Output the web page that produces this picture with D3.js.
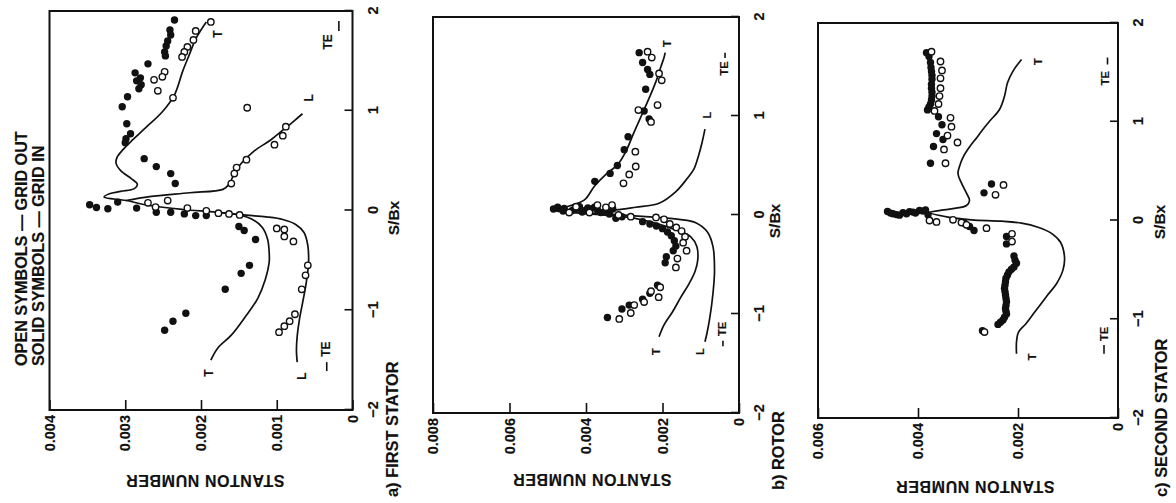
<!DOCTYPE html>
<html>
<head>
<meta charset="utf-8">
<script src="https://cdn.jsdelivr.net/npm/d3@7/dist/d3.min.js"></script>
<style>
  body { margin: 0; background: #fff; }
  text { font-family: "Liberation Sans", Arial, sans-serif; font-weight: bold; fill: #111; stroke: #111; stroke-width: 0.15px; }
</style>
</head>
<body>
<svg id="fig" width="1176" height="503"></svg>
<script>
// Axis ticks and texts
const sbxTicks = [-2, -1, 0, 1, 2];
const stTicksA = [0, 0.001, 0.002, 0.003, 0.004];
const stTicksB = [0, 0.002, 0.004, 0.006, 0.008];
const stTicksC = [0, 0.002, 0.004, 0.006];
const legendLines = ["OPEN SYMBOLS \u2014 GRID OUT", "SOLID SYMBOLS \u2014 GRID IN"];
const captions = ["a) FIRST STATOR", "b) ROTOR", "c) SECOND STATOR"];

// a) first stator: [S/Bx, Stanton]
const aT = [[-1.50,0.00187],[-1.38,0.00178],[-1.25,0.00160],[-1.06,0.00141],[-0.88,0.00125],[-0.69,0.00115],[-0.52,0.00110],[-0.42,0.00110],[-0.29,0.00112],[-0.17,0.00119],[-0.09,0.00132],[-0.044,0.00150],[-0.017,0.00180],[0.01,0.00224],[0.05,0.00268],[0.10,0.00299],[0.135,0.00328],[0.168,0.00321],[0.192,0.00306],[0.219,0.00288],[0.263,0.00284],[0.32,0.00292],[0.40,0.00306],[0.47,0.00312],[0.53,0.00311],[0.61,0.00303],[0.71,0.00290],[0.83,0.00273],[0.99,0.00251],[1.16,0.00235],[1.40,0.00224],[1.57,0.00215],[1.72,0.00207],[1.89,0.00193]];
const aLp = [[-1.52,0.00073],[-1.40,0.00074],[-1.26,0.00073],[-1.09,0.00070],[-0.89,0.00065],[-0.72,0.00061],[-0.52,0.00058],[-0.35,0.00059],[-0.22,0.00064],[-0.14,0.00075],[-0.09,0.00092],[-0.064,0.00114],[-0.044,0.00145],[-0.017,0.00180]];
const aLs = [[0.10,0.00299],[0.14,0.00268],[0.178,0.00215],[0.212,0.00171],[0.263,0.00163],[0.354,0.00157],[0.471,0.00147],[0.596,0.00130],[0.707,0.00108],[0.818,0.00090],[0.899,0.00077],[0.97,0.00066]];
const aOpen = [[1.89,0.00187],[1.80,0.00207],[1.71,0.00210],[1.64,0.00218],[1.59,0.00222],[1.54,0.00225],[1.39,0.00248],[1.34,0.00251],[1.31,0.00262],[1.20,0.00257],[1.13,0.00237],
  [1.03,0.00139],
  [0.84,0.00088],[0.75,0.00092],[0.66,0.00103],[0.51,0.00140],[0.43,0.00153],[0.37,0.00156],[0.27,0.00160],
  [0.077,0.00270],[0.034,0.00260],[0.10,0.00244],[0.024,0.00218],[-0.003,0.00193],[-0.027,0.00177],[-0.034,0.00163],[-0.044,0.00149],
  [-0.18,0.00100],[-0.19,0.00090],[-0.26,0.00090],[-0.31,0.00078],[-0.55,0.00059],[-0.65,0.00062],[-0.79,0.00067],[-1.04,0.00076],[-1.11,0.00083],[-1.16,0.00090],[-1.22,0.00097]];
const aSolid = [[1.91,0.00235],[1.81,0.00241],[1.76,0.00240],[1.70,0.00244],[1.65,0.00246],[1.59,0.00248],[1.55,0.00247],[1.47,0.00270],[1.38,0.00287],[1.33,0.00280],[1.30,0.00285],[1.26,0.00279],[1.22,0.00282],[1.14,0.00297],[1.04,0.00304],[0.87,0.00298],[0.77,0.00293],[0.72,0.00299],[0.68,0.00300],
  [0.52,0.00275],[0.44,0.00259],[0.37,0.00240],[0.27,0.00234],
  [0.057,0.00347],[0.030,0.00338],[0.017,0.00323],[0.084,0.00310],[0.024,0.00285],[-0.017,0.00259],[-0.017,0.00240],[-0.034,0.00222],[-0.051,0.00207],[-0.051,0.00193],
  [-0.16,0.00150],[-0.20,0.00143],[-0.29,0.00128],[-0.55,0.00136],[-0.63,0.00147],[-0.79,0.00168],[-1.03,0.00220],[-1.11,0.00237],[-1.20,0.00248]];
const aLabels = [["T",1.77,0.00178],["L",1.13,0.00057],["T",-1.63,0.00190],["L",-1.66,0.00067],["TE",1.69,0.00032],["TE",-1.39,0.00035]];
const aTE = [[1.80,1.90,0.00018],[-1.61,-1.52,0.00034]];

// b) rotor
const bT = [[-1.23,0.00209],[-1.11,0.00196],[-0.98,0.00174],[-0.83,0.00152],[-0.69,0.00130],[-0.57,0.00115],[-0.46,0.00108],[-0.32,0.00110],[-0.22,0.00126],[-0.15,0.00165],[-0.084,0.00217],[-0.024,0.00287],[0.010,0.00391],[0.051,0.00491],[0.091,0.00444],[0.152,0.00404],[0.29,0.00378],[0.41,0.00348],[0.51,0.00317],[0.64,0.00296],[0.84,0.00274],[1.03,0.00252],[1.18,0.00235],[1.35,0.00217],[1.50,0.00204],[1.59,0.00196],[1.64,0.00193]];
const bLs = [[0.051,0.00491],[0.045,0.00400],[0.051,0.00322],[0.078,0.00270],[0.118,0.00209],[0.236,0.00165],[0.371,0.00135],[0.472,0.00117],[0.597,0.00106],[0.725,0.00097],[0.867,0.00089]];
const bLp = [[-1.28,0.00089],[-1.20,0.00084],[-1.03,0.00076],[-0.79,0.00068],[-0.56,0.00064],[-0.32,0.00068],[-0.17,0.00083],[-0.078,0.00113],[-0.044,0.00157],[-0.017,0.00244],[0.017,0.00374],[0.051,0.00491]];
const bOpen = [[1.65,0.00239],[1.59,0.00228],[1.43,0.00209],[1.36,0.00202],[1.11,0.00213],[1.06,0.00263],[0.94,0.00230],[0.64,0.00271],[0.49,0.00270],[0.41,0.00287],[0.32,0.00302],
  [0.024,0.00444],[0.084,0.00426],[0.024,0.00391],[0.10,0.00370],[0.078,0.00348],[0.10,0.00332],[0.00,0.00315],[-0.017,0.00283],
  [-0.024,0.00217],[-0.044,0.00196],[-0.091,0.00181],[-0.125,0.00164],[-0.162,0.00150],[-0.219,0.00141],[-0.28,0.00146],[-0.36,0.00137],[-0.44,0.00161],[-0.53,0.00165],
  [-0.73,0.00206],[-0.83,0.00210],[-0.77,0.00230],[-0.88,0.00248],[-0.91,0.00274],[-0.99,0.00283],[-1.05,0.00313]];
const bSolid = [[1.64,0.00261],[1.54,0.00252],[1.47,0.00239],[1.42,0.00233],[1.27,0.00244],[1.05,0.00248],[0.97,0.00235],[0.79,0.00290],[0.66,0.00300],[0.50,0.00318],[0.42,0.00337],[0.34,0.00377],
  [0.078,0.00474],[0.067,0.00457],[0.044,0.00437],[0.084,0.00417],[0.051,0.00400],[0.078,0.00378],[0.024,0.00361],[0.010,0.00339],[-0.034,0.00322],[-0.017,0.00306],
  [0.06,0.00485],[0.04,0.00460],[0.06,0.00430],[0.03,0.00410],[0.07,0.00395],[0.05,0.00370],[0.03,0.00350],[0.06,0.00330],
  [-0.067,0.00252],[-0.091,0.00233],[-0.111,0.00216],[-0.138,0.00200],[-0.172,0.00187],[-0.209,0.00177],[-0.26,0.00169],[-0.314,0.00165],[-0.361,0.00172],[-0.422,0.00190],[-0.482,0.00193],
  [-0.71,0.00213],[-0.79,0.00233],[-0.85,0.00252],[-0.91,0.00287],[-0.95,0.00306],[-1.035,0.00344]];
const bLabels = [["T",1.73,0.00187],["L",1.01,0.00083],["T",-1.38,0.00217],["L",-1.38,0.00103],["TE",1.48,0.00039],["TE",-1.15,0.00044]];
const bTE = [[1.585,1.64,0.000365],[-1.325,-1.27,0.00042]];

// c) second stator
const cT = [[-1.35,0.00203],[-1.23,0.00203],[-1.13,0.00199],[-1.05,0.00185],[-0.95,0.00170],[-0.85,0.00155],[-0.75,0.00140],[-0.64,0.00123],[-0.50,0.00110],[-0.37,0.00107],[-0.22,0.00115],[-0.13,0.00133],[-0.068,0.00160],[-0.027,0.00193],[-0.007,0.00233],[0.007,0.00293],[0.034,0.00340],[0.081,0.00377],[0.091,0.00370],[0.105,0.00353],[0.122,0.00327],[0.152,0.00303],[0.203,0.00297],[0.277,0.00303],[0.379,0.00313],[0.474,0.00320],[0.548,0.00317],[0.65,0.00309],[0.745,0.00297],[0.836,0.00283],[0.904,0.00273],[1.005,0.00257],[1.124,0.00237],[1.259,0.00227],[1.394,0.00221],[1.513,0.00210],[1.631,0.00193]];
const cOpen = [[1.71,0.00373],[1.61,0.00355],[1.52,0.00352],[1.44,0.00355],[1.34,0.00355],[1.26,0.00357],[1.18,0.00359],[1.11,0.00367],[1.04,0.00335],[0.95,0.00333],[0.86,0.00341],[0.79,0.00321],[0.72,0.00348],[0.58,0.00345],
  [0.26,0.00245],[0.36,0.00229],
  [0.00,0.00377],[-0.014,0.00363],[0.007,0.00330],[-0.02,0.00313],[-0.044,0.00303],[-0.078,0.00263],
  [-0.135,0.00212],[-0.213,0.00212],[-1.13,0.00267]];
const cSolid = [[1.70,0.00383],[1.66,0.00378],[1.60,0.00375],[1.55,0.00374],[1.51,0.00373],[1.47,0.00372],[1.43,0.00372],[1.38,0.00373],[1.34,0.00373],[1.30,0.00372],[1.26,0.00372],[1.22,0.00373],[1.18,0.00375],[1.15,0.00378],[1.12,0.00381],[1.05,0.00359],[0.97,0.00352],[0.88,0.00363],[0.82,0.00350],[0.75,0.00369],[0.58,0.00375],
  [0.28,0.00268],[0.37,0.00253],
  [0.091,0.00461],[0.075,0.00455],[0.068,0.00450],[0.06,0.00443],[0.054,0.00437],[0.08,0.00430],[0.068,0.00423],[0.09,0.00417],[0.085,0.00410],[0.075,0.00405],[0.102,0.00397],[0.095,0.00390],[0.108,0.00385],[0.058,0.00380],[-0.027,0.00307],[-0.061,0.00297],[-0.102,0.00288],
  [-0.162,0.00223],[-0.237,0.00223],[-0.36,0.00208],[-0.40,0.00206],[-0.433,0.00203],[-0.47,0.00208],[-0.494,0.00213],[-0.52,0.00218],[-0.552,0.00221],[-0.585,0.00224],[-0.619,0.00225],[-0.655,0.00226],[-0.687,0.00227],[-0.72,0.00226],[-0.755,0.00225],[-0.79,0.00224],[-0.822,0.00223],[-0.86,0.00224],[-0.89,0.00225],[-0.92,0.00224],[-0.948,0.00223],[-0.98,0.00227],[-1.008,0.00230],[-1.03,0.00235],[-1.052,0.00240],[-1.117,0.00271]];
const cLabels = [["T",1.61,0.00161],["T",-1.38,0.00173],["TE",1.44,0.00027],["TE",-1.15,0.00028]];
const cTE = [[1.58,1.65,0.00021],[-1.35,-1.26,0.00028]];

// layout of the upright figure (it is turned a quarter left at the end)
const panels = [
  { caption: captions[0], ticks: stTicksA, xr: [93, 492], yr: [352.5, 49.5], lines: [aT, aLp, aLs],
    open: aOpen, solid: aSolid, labels: aLabels, te: aTE, lab: 12,
    title: [28, 205], sbx: [285, 399], cap: [6, 398] },
  { caption: captions[1], ticks: stTicksB, xr: [90, 486], yr: [739, 433], lines: [bT, bLp, bLs],
    open: bOpen, solid: bSolid, labels: bLabels, te: bTE, lab: 11,
    title: [29, 592], sbx: [282, 780], cap: [13, 784] },
  { caption: captions[2], ticks: stTicksC, xr: [85, 480], yr: [1118, 818], lines: [cT],
    open: cOpen, solid: cSolid, labels: cLabels, te: cTE, lab: 11,
    title: [22, 975], sbx: [281, 1165], cap: [6, 1167] }
];

const ink = "#111";
const svg = d3.select("#fig");
const root = svg.append("g").attr("transform", "translate(0,503) rotate(-90)");
const fmtSt = d => d === 0 ? "0" : d3.format(".3f")(d);
const fmtS = d3.format("d");

// legend over panel a
legendLines.forEach((t, i) => {
  root.append("text").attr("x", 137).attr("y", 27 + i * 17)
    .attr("font-size", 16.2).text(t);
});

panels.forEach(p => {
  const yMax = p.ticks[p.ticks.length - 1];
  const x = d3.scaleLinear().domain([-2, 2]).range(p.xr);
  const y = d3.scaleLinear().domain([0, yMax]).range(p.yr);
  const g = root.append("g");

  // axes, ticks inside
  const xa = g.append("g").attr("transform", `translate(0,${p.yr[0]})`)
    .call(d3.axisBottom(x).tickValues(sbxTicks).tickFormat(fmtS).tickSizeInner(-8).tickSizeOuter(0).tickPadding(15));
  const ya = g.append("g").attr("transform", `translate(${p.xr[0]},0)`)
    .call(d3.axisLeft(y).tickValues(p.ticks).tickFormat(fmtSt).tickSizeInner(-10).tickSizeOuter(0).tickPadding(5));
  [xa, ya].forEach(a => {
    a.select(".domain").remove();
    a.selectAll("line").attr("stroke", ink).attr("stroke-width", 1.6);
    a.selectAll("text").attr("font-size", 14.5).attr("font-family", null).attr("fill", ink);
  });

  g.append("rect")
    .attr("x", p.xr[0]).attr("y", p.yr[1])
    .attr("width", p.xr[1] - p.xr[0]).attr("height", p.yr[0] - p.yr[1])
    .attr("fill", "none").attr("stroke", ink).attr("stroke-width", 2);

  // prediction curves
  const line = d3.line().x(d => x(d[0])).y(d => y(d[1])).curve(d3.curveCatmullRom.alpha(0.5));
  p.lines.forEach(l => {
    g.append("path").attr("d", line(l)).attr("fill", "none")
      .attr("stroke", ink).attr("stroke-width", 1.7);
  });

  // measured points
  g.selectAll(".solid").data(p.solid).enter().append("circle")
    .attr("cx", d => x(d[0])).attr("cy", d => y(d[1])).attr("r", 3.7)
    .attr("fill", ink);
  g.selectAll(".open").data(p.open).enter().append("circle")
    .attr("cx", d => x(d[0])).attr("cy", d => y(d[1])).attr("r", 3.2)
    .attr("fill", "#fff").attr("stroke", ink).attr("stroke-width", 1.4);

  // curve labels and trailing edge marks
  p.labels.forEach(l => {
    g.append("text").attr("x", x(l[1])).attr("y", y(l[2]))
      .attr("text-anchor", "middle").attr("dominant-baseline", "central")
      .attr("font-size", p.lab).text(l[0]);
  });
  p.te.forEach(b => {
    g.append("line").attr("x1", x(b[0])).attr("x2", x(b[1]))
      .attr("y1", y(b[2])).attr("y2", y(b[2]))
      .attr("stroke", ink).attr("stroke-width", 1.6);
  });

  // titles
  g.append("text")
    .attr("transform", `translate(${p.title[0]},${p.title[1]}) rotate(-90)`)
    .attr("text-anchor", "middle").attr("font-size", 16)
    .attr("letter-spacing", 0.6).text("STANTON NUMBER");
  g.append("text").attr("x", p.sbx[0]).attr("y", p.sbx[1])
    .attr("text-anchor", "middle").attr("font-size", 15.5).text("S/Bx");
  g.append("text").attr("x", p.cap[0]).attr("y", p.cap[1])
    .attr("font-size", 16.4).text(p.caption);
});
</script>
</body>
</html>
